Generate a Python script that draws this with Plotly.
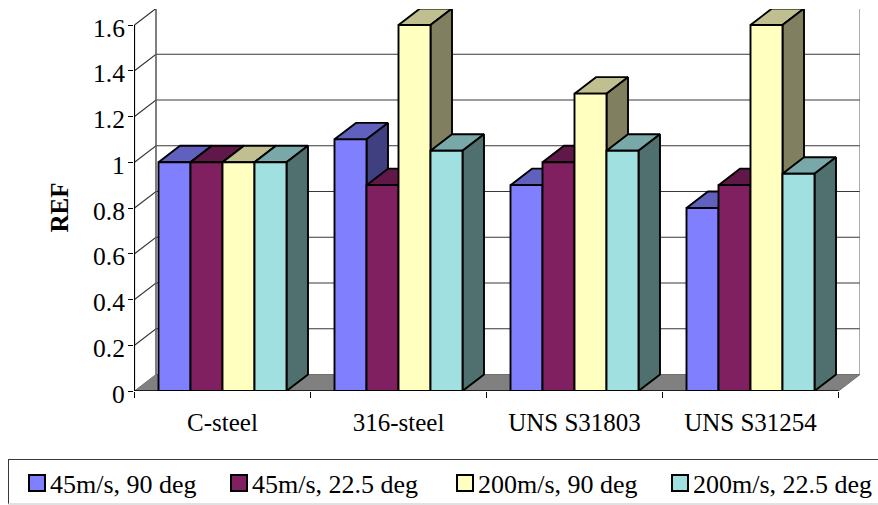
import plotly.graph_objects as go

categories = ["C-steel", "316-steel", "UNS S31803", "UNS S31254"]
series_names = ["45m/s, 90 deg", "45m/s, 22.5 deg", "200m/s, 90 deg", "200m/s, 22.5 deg"]
speed45_deg90 = [1.0, 1.1, 0.9, 0.8]
speed45_deg22 = [1.0, 0.9, 1.0, 0.9]
speed200_deg90 = [1.0, 1.6, 1.3, 1.6]
speed200_deg22 = [1.0, 1.05, 1.05, 0.95]
series_values = [speed45_deg90, speed45_deg22, speed200_deg90, speed200_deg22]
y_ticks = [0, 0.2, 0.4, 0.6, 0.8, 1, 1.2, 1.4, 1.6]
y_tick_labels = ["0", "0.2", "0.4", "0.6", "0.8", "1", "1.2", "1.4", "1.6"]

front_colours = [(128, 128, 255), (128, 32, 96), (255, 255, 192), (160, 224, 224)]

FONT = "Liberation Serif"
W, H = 878, 505
M_L, M_R, M_T, M_B = 134, 18, 9, 114
PLOT_W, PLOT_H = W - M_L - M_R, H - M_T - M_B
GROUP_PX = 176.0
UNIT_PX = 228.75
X_START = -0.5 / GROUP_PX

# Oblique depth of the box, expressed in axis units
DEPTH_X = 21.5 / GROUP_PX
DEPTH_Y = 16.5 / UNIT_PX
GAP = 24 / GROUP_PX
BAR_W = (1 - 2 * GAP) / len(series_values)
X_END = len(categories)
Y_END = y_ticks[-1]
EDGE = 1.9


def shade(rgb, k):
    return "rgb({},{},{})".format(*(round(c * k) for c in rgb))


def px_x(p):
    return (p - M_L) / PLOT_W


def px_y(p):
    return (H - M_B - p) / PLOT_H


fig = go.Figure()


def polygon(xs, ys, fill, line, width, name=None):
    fig.add_trace(go.Scatter(
        x=xs + xs[:1], y=ys + ys[:1], mode="lines", fill="toself", fillcolor=fill,
        line=dict(color=line, width=width), cliponaxis=False, showlegend=False,
        name=name, hoverinfo="skip" if name is None else "name",
    ))


def segment(xs, ys, colour, width=1):
    fig.add_trace(go.Scatter(
        x=xs, y=ys, mode="lines", line=dict(color=colour, width=width),
        cliponaxis=False, showlegend=False, hoverinfo="skip",
    ))


# Floor of the box
polygon([0, X_END, X_END + DEPTH_X, DEPTH_X], [0, 0, DEPTH_Y, DEPTH_Y], "#808080", "#707070", 1)

# Gridlines: diagonal on the side wall, horizontal on the back wall
for t in y_ticks[1:]:
    segment([0, DEPTH_X, X_END + DEPTH_X], [t, t + DEPTH_Y, t + DEPTH_Y], "#383838", 1.2)

# Wall edges
segment([DEPTH_X, DEPTH_X], [DEPTH_Y, Y_END + DEPTH_Y], "#555555", 1.5)
segment([X_END + DEPTH_X, X_END + DEPTH_X], [DEPTH_Y, Y_END + DEPTH_Y], "#777777", 1.2)

# Bars are painted left to right so each one covers the side of its neighbour
for g in range(len(categories)):
    for s, values in enumerate(series_values):
        v = values[g]
        x0 = g + GAP + s * BAR_W
        x1 = x0 + BAR_W
        rgb = front_colours[s]
        label = f"{series_names[s]} – {categories[g]}: {v}"
        polygon([x0, x1, x1 + DEPTH_X, x0 + DEPTH_X], [v, v, v + DEPTH_Y, v + DEPTH_Y],
                shade(rgb, 0.75), "black", EDGE)
        polygon([x1, x1 + DEPTH_X, x1 + DEPTH_X, x1], [0, DEPTH_Y, v + DEPTH_Y, v],
                shade(rgb, 0.5), "black", EDGE)
        polygon([x0, x1, x1, x0], [0, 0, v, v], shade(rgb, 1), "black", EDGE, name=label)

# Front axis lines
segment([0, 0], [0, Y_END], "black", 1.2)
segment([0, X_END], [0, 0], "black", 1.6)

# Legend box: swatches and labels laid out along one row
shapes = [
    dict(type="line", xref="paper", yref="paper", x0=px_x(8), x1=px_x(W), y0=px_y(459.5), y1=px_y(459.5),
         line=dict(color="#383838", width=1)),
    dict(type="line", xref="paper", yref="paper", x0=px_x(8.5), x1=px_x(8.5), y0=px_y(459.5), y1=px_y(504),
         line=dict(color="#383838", width=1)),
    dict(type="line", xref="paper", yref="paper", x0=px_x(8), x1=px_x(W), y0=px_y(504), y1=px_y(504),
         line=dict(color="#c4c4c4", width=1)),
]
annotations = []
swatch_left = [29, 231, 457, 672]
for left, name, rgb in zip(swatch_left, series_names, front_colours):
    shapes.append(dict(type="rect", xref="paper", yref="paper",
                       x0=px_x(left), x1=px_x(left + 16), y0=px_y(491), y1=px_y(475),
                       fillcolor=shade(rgb, 1), line=dict(color="black", width=2)))
    annotations.append(dict(xref="paper", yref="paper", x=px_x(left + 19), y=px_y(484),
                            xanchor="left", yanchor="middle", text=name, showarrow=False,
                            font=dict(family=FONT, size=26, color="black")))

# Value labels sit slightly below their tick marks
for t, text in zip(y_ticks, y_tick_labels):
    annotations.append(dict(xref="paper", yref="y", x=px_x(126.5), y=t, yshift=-3,
                            xanchor="right", yanchor="middle", text=text, showarrow=False,
                            font=dict(family=FONT, size=25.5, color="black")))

annotations.append(dict(xref="paper", yref="paper", x=px_x(58.5), y=px_y(208), textangle=-90,
                        xanchor="center", yanchor="middle", text="<b>REF</b>", showarrow=False,
                        font=dict(family=FONT, size=25, color="black")))

fig.update_layout(
    width=W, height=H, autosize=False,
    margin=dict(l=M_L, r=M_R, t=M_T, b=M_B, pad=0),
    paper_bgcolor="white", plot_bgcolor="white",
    showlegend=False, shapes=shapes, annotations=annotations,
    xaxis=dict(
        range=[X_START, X_START + PLOT_W / GROUP_PX], showgrid=False, zeroline=False, showline=False,
        tickmode="array", tickvals=[i + 0.5 for i in range(len(categories))], ticktext=categories,
        ticks="", ticklabelstandoff=14, tickfont=dict(family=FONT, size=25, color="black"),
        minor=dict(tickmode="array", tickvals=list(range(len(categories) + 1)), ticks="outside",
                   ticklen=6, tickwidth=1, tickcolor="black", showgrid=False),
    ),
    yaxis=dict(
        range=[0, PLOT_H / UNIT_PX], showgrid=False, zeroline=False, showline=False,
        tickmode="array", tickvals=y_ticks, showticklabels=False,
        ticks="outside", ticklen=5, tickwidth=1, tickcolor="black",
    ),
)

fig.write_html("out.html")
